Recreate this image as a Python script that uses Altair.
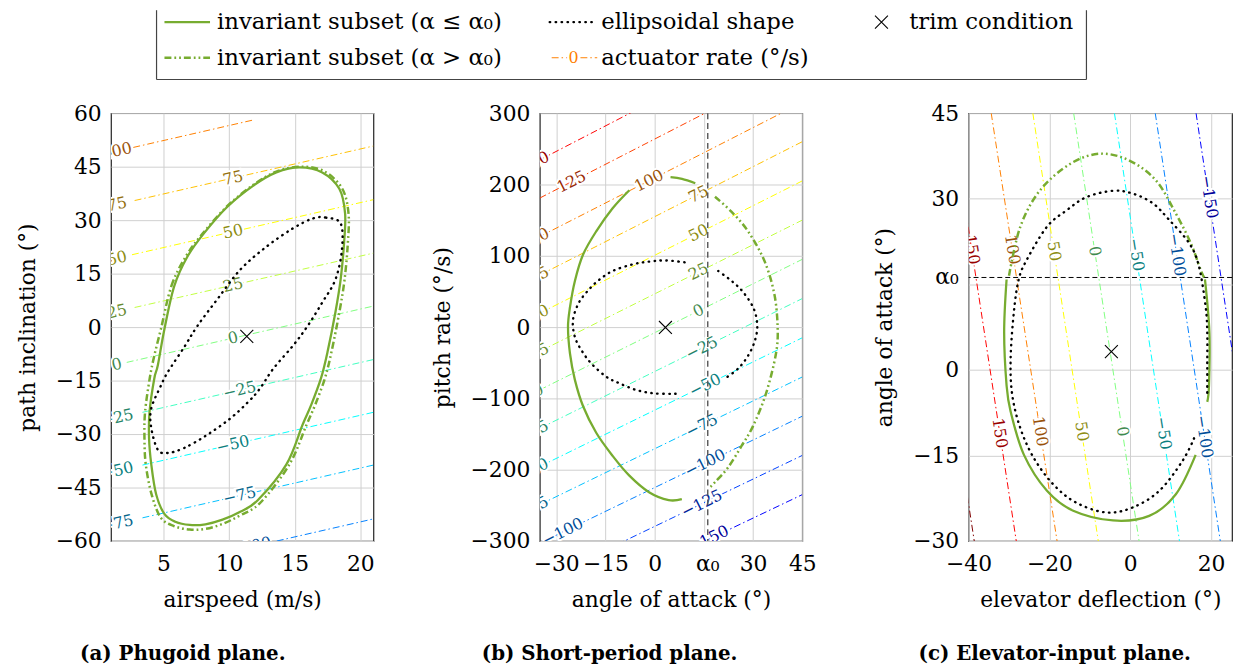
import altair as alt
import pandas as pd

FONT = "DejaVu Serif"
GREEN = "#77ac30"
ALPHA0 = 16.2

# ---------------- panel (a): phugoid plane ----------------
A_XTICKS = [5, 10, 15, 20]
A_YTICKS = [-60, -45, -30, -15, 0, 15, 30, 45, 60]
A_LEVELS = [100, 75, 50, 25, 0, -25, -50, -75, -100]
A_X0 = [2.7, 2.8, 2.6, 2.8, 2.2, 3.4, 3.4, 3.4, 11.5]
A_Y0 = [50.4, 35.5, 20.3, 5.5, -9.9, -23.9, -38.7, -53.5, -61.8]
A_X1 = [11.85, 21.0, 21.0, 21.0, 21.0, 21.0, 21.0, 21.0, 21.0]
A_Y1 = [58.1, 50.8, 35.75, 20.75, 5.9, -9.1, -23.9, -38.7, -53.8]
A_LAB_LEVEL = [100, 75, 50, 25, 0, -25, -50, -75, 75, 50, 25, 0, -25, -50, -75, -100]
A_LAB_X = [1.45, 1.45, 1.45, 1.45, 1.45, 1.45, 1.45, 1.45, 10.3, 10.3, 10.3, 10.3, 10.8, 10.3, 10.8, 11.6]
A_LAB_Y = [49.4, 34.4, 19.3, 4.3, -10.5, -25.5, -40.3, -55.1, 41.8, 26.75, 11.75, -3.1, -17.7, -32.9, -47.3, -61.7]
A_SOL_X = [5.07, 5.82, 6.83, 8.08, 9.85, 11.85, 13.6, 15.37, 17.1, 18.4, 18.84, 18.76, 18.5, 18.1, 17.5, 17.0,
           16.25, 15.6, 14.37, 12.2, 10.85, 9.5, 8.2, 7.0, 5.9, 5.07, 4.44, 4.07, 3.9, 3.94, 4.3, 4.57]
A_SOL_Y = [-0.6, 11.5, 19.8, 26.3, 33.7, 39.7, 43.4, 44.8, 43.4, 38.8, 31.9, 23.5, 13.3, 4.1, -7.0, -14.4,
           -21.9, -27.4, -38.5, -48.5, -51.8, -54.0, -55.3, -55.5, -54.6, -52.4, -46.9, -38.5, -31.1, -23.7, -14.4, -10.7]
A_DD_X = [4.8, 5.6, 6.7, 8.0, 9.85, 11.85, 13.6, 15.4, 17.2, 18.6, 19.1, 19.05, 18.8, 18.4, 17.8, 17.3,
          16.55, 15.9, 14.6, 12.4, 10.85, 9.5, 8.2, 7.0, 5.8, 4.8, 4.1, 3.65, 3.55, 3.6, 3.95, 4.3]
A_DD_Y = [-0.6, 11.5, 19.8, 26.3, 33.9, 39.9, 43.6, 45.0, 43.8, 39.0, 32.0, 23.5, 13.3, 4.1, -7.0, -14.4,
          -21.9, -27.4, -38.5, -49.2, -52.8, -55.2, -56.6, -56.8, -55.8, -53.5, -47.0, -38.5, -31.0, -23.7, -14.4, -8.0]
A_DOT_X = [16.4, 17.38, 18.5, 18.6, 18.1, 17.1, 16.0, 14.87, 13.36, 12.36, 11.48, 10.1, 8.34, 6.58, 5.33, 4.57,
           4.07, 4.07, 4.82, 5.33, 6.58, 7.6, 9.1, 10.85, 12.86, 14.87]
A_DOT_Y = [30.5, 30.7, 29.1, 21.7, 13.3, 6.9, 0.4, -5.2, -11.7, -17.2, -20.9, -25.6, -30.2, -33.9, -35.3, -34.4,
           -28.3, -22.8, -16.3, -12.6, -5.6, 0.4, 7.8, 16.1, 22.6, 27.7]
A_TRIM = [11.35, -2.6]

# ---------------- panel (b): short-period plane ----------------
B_XTICKS = [-30, -15, 0, 15, 30, 45]
B_YTICKS = [-300, -200, -100, 0, 100, 200, 300]
B_LEVELS = [150, 125, 100, 75, 50, 25, 0, -25, -50, -75, -100, -125, -150]
B_X0 = [-35, -35, -35, -35, -35, -35, -35, -35, -35, -35, -35, -35, -35]
B_Y0 = [234.5, 181, 127, 73, 19.5, -34, -88, -142, -195.5, -249, -303, -357, -410.5]
B_X1 = [45, 45, 45, 45, 45, 45, 45, 45, 45, 45, 45, 45, 45]
B_Y1 = [425, 370, 315, 260, 205, 150, 95, 40, -15, -70, -125, -180, -235]
B_LAB_LEVEL = [150, 125, 100, 75, 50, 25, 0, -25, -50, -75, -100,
               100, 75, 50, 25, 0, -25, -50, -75, -100, -125, -150]
B_LAB_X = [-36.5, -25.3, -36.5, -35.2, -35.2, -35.2, -35.5, -37.2, -37.2, -37.2, -28.0,
           -1.7, 13.4, 13.4, 13.4, 13.4, 14.4, 15.4, 14.4, 15.4, 14.4, 16.4]
B_LAB_Y = [230.9, 203.9, 123.5, 72.5, 19.0, -34.5, -89.1, -147.0, -200.5, -253.9, -287.4,
           205.3, 186.2, 132.0, 77.9, 22.7, -29.6, -81.8, -138.5, -190.9, -247.7, -298.0]
B_SOL1_X = [-7.7, -12.8, -17.8, -21.8, -24.3, -25.8, -26.4, -25.8, -24.3, -21.8, -17.8, -12.8, -7.7, -1.7, 4.3, 8.3]
B_SOL1_Y = [192.0, 166.7, 134.3, 101.8, 64.8, 27.8, 0.0, -37.0, -74.0, -111.0, -148.2, -180.6, -208.3, -231.5, -242.6, -241.2]
B_SOL2_X = [4.85, 8.35, 12.4]
B_SOL2_Y = [210.2, 207.9, 201.8]
B_DD_X = [18.4, 23.4, 28.5, 33.5, 36.5, 37.5, 37.0, 34.0, 30.0, 26.5, 22.4, 18.4, 16.4]
B_DD_Y = [182.9, 162.0, 134.3, 92.6, 46.3, 0.0, -37.0, -92.6, -138.9, -166.7, -196.8, -217.6, -226.8]
B_DOT1_X = [6.4, 0.0, -5.7, -10.8, -14.8, -19.3, -22.3, -24.3, -24.9, -23.3, -20.8, -17.3, -12.8, -6.7, -1.5, 3.5, 9.4]
B_DOT1_Y = [-93.5, -93.0, -88.0, -78.7, -69.4, -51.0, -32.4, -13.9, 9.3, 32.4, 48.6, 64.8, 78.7, 88.0, 92.0, 93.5, 90.7]
B_DOT2_X = [19.4, 23.4, 27.0, 30.2, 31.3, 30.5, 28.5, 25.5, 21.5]
B_DOT2_Y = [78.7, 65.0, 49.0, 26.0, 2.0, -20.0, -40.0, -58.0, -72.0]
B_TRIM = [3.3, -0.5]

# ---------------- panel (c): elevator-input plane ----------------
C_XTICKS = [-40, -20, 0, 20]
C_YTICKS = [-30, -15, 0, 15, 30, 45]
C_LEVELS = [200, 150, 100, 50, 0, -50, -100, -150]
C_X0 = [-54.8, -44.4, -34.4, -24.1, -14.0, -3.9, 6.2, 16.3]
C_Y0 = [45, 45, 45, 45, 45, 45, 45, 45]
C_X1 = [-38.6, -28.2, -18.1, -7.9, 2.2, 12.2, 22.3, 32.4]
C_Y1 = [-30, -30, -30, -30, -30, -30, -30, -30]
C_LAB_LEVEL = [150, 100, 50, 0, -50, -100, -150, 150, 100, 50, 0, -50, -100]
C_LAB_X = [-39.2, -29.2, -18.9, -8.8, 1.46, 11.56, 19.5, -32.3, -22.3, -12.0, -1.9, 8.2, 18.3]
C_LAB_Y = [21.1, 21.1, 20.8, 20.8, 20.2, 20.2, 30.3, -11.1, -10.8, -10.8, -10.8, -11.1, -11.7]
C_SOL1_X = [-30.6, -31.2, -30.6, -29.6, -26.3, -20.6, -14.1, -4.25, 4.7, 11.3, 16.2]
C_SOL1_Y = [15.85, 6.6, -2.7, -7.3, -14.9, -21.2, -24.7, -26.4, -25.6, -21.8, -14.9]
C_SOL2_X = [18.5, 19.6, 19.5, 19.07]
C_SOL2_Y = [15.85, 6.6, -2.7, -5.6]
C_DD_X = [-30.0, -27.2, -22.3, -14.9, -7.5, -0.2, 6.4, 11.3, 15.0, 17.4, 18.3]
C_DD_Y = [16.5, 25.1, 31.5, 36.1, 37.9, 36.7, 33.2, 27.4, 22.2, 17.6, 16.2]
C_DOT_X = [15.8, 12.9, 7.2, 0.66, -5.9, -13.3, -19.0, -23.9, -27.2, -29.2, -29.6, -28.8, -27.6, -25.6, -20.6,
           -15.7, -10.8, -4.25, 0.66, 5.6, 9.65, 14.6, 17.0, 18.65, 19.07, 19.07, 19.07]
C_DOT_Y = [-12.0, -16.0, -21.2, -24.1, -25.0, -23.3, -20.1, -15.4, -10.2, -4.4, 1.9, 10.1, 15.85, 19.3, 25.1,
           28.0, 30.3, 31.4, 30.9, 29.2, 26.3, 22.2, 18.2, 11.2, 6.6, 0.8, -4.4]
C_TRIM = [-4.66, 3.2]

LEGEND_LABELS = ["invariant subset (α ≤ α₀)", "invariant subset (α > α₀)", "ellipsoidal shape",
                 "actuator rate (°/s)", "trim condition"]
LEGEND_SAMPLE_LEVEL = "0"
ALPHA0_LABEL = "α₀"
CAPTIONS = ["(a) Phugoid plane.", "(b) Short-period plane.", "(c) Elevator-input plane."]

# ---------------- styling ----------------
JET_DOMAIN = [-200, -150, -100, -50, 0, 50, 100, 150, 200]
JET_LINE = ["#000080", "#0000ff", "#0080ff", "#00ffff", "#80ff80", "#ffff00", "#ff8000", "#ff0000", "#800000"]
JET_TEXT = ["#00004d", "#000099", "#004d99", "#0a7f80", "#3f8a4f", "#8c8c10", "#99520a", "#990000", "#4d0000"]
STROKE_SCALE = alt.Scale(domain=JET_DOMAIN, range=JET_LINE, interpolate="rgb")
FILL_SCALE = alt.Scale(domain=JET_DOMAIN, range=JET_TEXT, interpolate="rgb")
CONTOUR_DASH = [7, 3, 1.5, 3]
DD_DASH = [7, 3, 1.8, 3, 1.8, 3]
DOT_DASH = [0.5, 5.5]
XPATH = "M-1,-1L1,1M-1,1L1,-1"
W, H = 265, 432
LEG_FS = 23


def frame_df(xs, ys):
    return pd.DataFrame({"x": xs, "y": ys, "i": list(range(len(xs)))})


def panel(X, Y, levels, x0, y0, x1, y1, lab_level, lab_x, lab_y, angle, curves, trim, extra):
    rules_df = pd.DataFrame({"level": levels, "x": x0, "y": y0, "x2": x1, "y2": y1})
    lab_df = pd.DataFrame({"level": lab_level, "x": lab_x, "y": lab_y})
    layers = []
    layers.append(alt.Chart(rules_df).mark_rule(clip=True, strokeWidth=1, strokeDash=CONTOUR_DASH).encode(
        x=X, y=Y, x2="x2:Q", y2="y2:Q",
        stroke=alt.Stroke("level:Q", scale=STROKE_SCALE, legend=None)))
    layers.append(alt.Chart(lab_df).mark_text(clip=True, font=FONT, fontSize=16, angle=angle,
                                              stroke="white", strokeWidth=4, fill="white").encode(
        x=X, y=Y, text=alt.Text("level:Q", format="d")))
    layers.append(alt.Chart(lab_df).mark_text(clip=True, font=FONT, fontSize=16, angle=angle).encode(
        x=X, y=Y, text=alt.Text("level:Q", format="d"),
        fill=alt.Fill("level:Q", scale=FILL_SCALE, legend=None)))
    layers += extra
    for xs, ys, kind in curves:
        df = frame_df(xs, ys)
        if kind == "solid":
            mk = dict(stroke=GREEN, strokeWidth=2.3, interpolate="cardinal")
        elif kind == "solid-closed":
            mk = dict(stroke=GREEN, strokeWidth=2.3, interpolate="cardinal-closed")
        elif kind == "dd":
            mk = dict(stroke=GREEN, strokeWidth=2.5, strokeDash=DD_DASH, interpolate="cardinal")
        elif kind == "dd-closed":
            mk = dict(stroke=GREEN, strokeWidth=2.5, strokeDash=DD_DASH, interpolate="cardinal-closed")
        elif kind == "dot-closed":
            mk = dict(stroke="black", strokeWidth=2.4, strokeDash=DOT_DASH, strokeCap="round",
                      interpolate="cardinal-closed")
        else:
            mk = dict(stroke="black", strokeWidth=2.4, strokeDash=DOT_DASH, strokeCap="round",
                      interpolate="cardinal")
        layers.append(alt.Chart(df).mark_line(**mk).encode(x=X, y=Y, order="i:Q"))
    tdf = pd.DataFrame({"x": [trim[0]], "y": [trim[1]]})
    layers.append(alt.Chart(tdf).mark_point(shape=XPATH, size=170, filled=False, stroke="black",
                                            strokeWidth=1.1, opacity=1).encode(x=X, y=Y))
    return layers


ONE = pd.DataFrame({"k": [0]})


def lrule(xa, xb, ya, yb, **mk):
    return alt.Chart(ONE).mark_rule(**mk).encode(x=alt.value(xa), x2=alt.value(xb),
                                                 y=alt.value(ya), y2=alt.value(yb))


def ltext(x, y, s, **mk):
    opts = dict(align="left", baseline="middle", font=FONT, fontSize=LEG_FS, color="black")
    opts.update(mk)
    return alt.Chart(ONE).mark_text(**opts).encode(x=alt.value(x), y=alt.value(y), text=alt.value(s))


def caption(text, dx):
    return alt.TitleParams(text, orient="bottom", anchor="middle", frame="group", dx=dx, offset=34,
                           font=FONT, fontSize=20, fontWeight="bold", color="black")


# ---- panel (a)
A_X = alt.X("x:Q", scale=alt.Scale(domain=[1, 21], nice=False, zero=False),
            axis=alt.Axis(values=A_XTICKS, title="airspeed (m/s)"))
A_Y = alt.Y("y:Q", scale=alt.Scale(domain=[-60, 60], nice=False, zero=False),
            axis=alt.Axis(values=A_YTICKS, title="path inclination (°)"))

R1, R2 = -92, -56
legend_layers = [
    lrule(46, 46, -104, -34, stroke="#444", strokeWidth=1.2),
    lrule(985, 985, -104, -34, stroke="#444", strokeWidth=1.2),
    lrule(46, 985, -34, -34, stroke="#444", strokeWidth=1.2),
    lrule(54, 100, R1, R1, stroke=GREEN, strokeWidth=2.3),
    ltext(107, R1, LEGEND_LABELS[0]),
    lrule(54, 100, R2, R2, stroke=GREEN, strokeWidth=2.5, strokeDash=DD_DASH),
    ltext(107, R2, LEGEND_LABELS[1]),
    lrule(443, 489, R1, R1, stroke="black", strokeWidth=2.4, strokeDash=DOT_DASH, strokeCap="round"),
    ltext(495, R1, LEGEND_LABELS[2]),
    lrule(445, 491, R2, R2, stroke="#ff8000", strokeWidth=1, strokeDash=CONTOUR_DASH),
    ltext(467, R2, LEGEND_SAMPLE_LEVEL, align="center", fontSize=16, stroke="white", strokeWidth=5, color="white"),
    ltext(467, R2, LEGEND_SAMPLE_LEVEL, align="center", fontSize=16, color="#ff8000"),
    ltext(495, R2, LEGEND_LABELS[3]),
    alt.Chart(ONE).mark_point(shape=XPATH, size=170, filled=False, stroke="black", strokeWidth=1.1,
                              opacity=1).encode(x=alt.value(778), y=alt.value(R1)),
    ltext(806, R1, LEGEND_LABELS[4]),
]

pa_layers = panel(A_X, A_Y, A_LEVELS, A_X0, A_Y0, A_X1, A_Y1, A_LAB_LEVEL, A_LAB_X, A_LAB_Y, 347,
                  [(A_DD_X, A_DD_Y, "dd-closed"), (A_SOL_X, A_SOL_Y, "solid-closed"),
                   (A_DOT_X, A_DOT_Y, "dot-closed")], A_TRIM, [])
pa = alt.layer(*(pa_layers + legend_layers)).properties(width=W, height=H, title=caption(CAPTIONS[0], -60))

# ---- panel (b)
B_X = alt.X("x:Q", scale=alt.Scale(domain=[-35, 45], nice=False, zero=False),
            axis=alt.Axis(values=B_XTICKS, title="angle of attack (°)",
                          labelExpr="datum.value == 15 ? '' : datum.label"))
B_Y = alt.Y("y:Q", scale=alt.Scale(domain=[-300, 300], nice=False, zero=False),
            axis=alt.Axis(values=B_YTICKS, title="pitch rate (°/s)"))
a0b = pd.DataFrame({"x": [ALPHA0]})
b_extra = [
    alt.Chart(a0b).mark_rule(stroke="#555", strokeWidth=1.4, strokeDash=[6, 4]).encode(x=B_X),
    alt.Chart(a0b).mark_text(font=FONT, fontSize=22, baseline="top", color="black").encode(
        x=B_X, y=alt.value(H + 13), text=alt.value(ALPHA0_LABEL)),
]
pb_layers = panel(B_X, B_Y, B_LEVELS, B_X0, B_Y0, B_X1, B_Y1, B_LAB_LEVEL, B_LAB_X, B_LAB_Y, 333.5,
                  [(B_SOL1_X, B_SOL1_Y, "solid"), (B_SOL2_X, B_SOL2_Y, "solid"), (B_DD_X, B_DD_Y, "dd"),
                   (B_DOT1_X, B_DOT1_Y, "dot"), (B_DOT2_X, B_DOT2_Y, "dot")], B_TRIM, b_extra)
pb = alt.layer(*pb_layers).properties(width=W, height=H, title=caption(CAPTIONS[1], -62))

# ---- panel (c)
C_X = alt.X("x:Q", scale=alt.Scale(domain=[-40, 25.2], nice=False, zero=False),
            axis=alt.Axis(values=C_XTICKS, title="elevator deflection (°)"))
C_Y = alt.Y("y:Q", scale=alt.Scale(domain=[-30, 45], nice=False, zero=False),
            axis=alt.Axis(values=C_YTICKS, title="angle of attack (°)",
                          labelExpr="datum.value == 15 ? '' : datum.label"))
a0c = pd.DataFrame({"y": [ALPHA0]})
c_extra = [
    alt.Chart(a0c).mark_rule(stroke="black", strokeWidth=1, strokeDash=[5, 3]).encode(y=C_Y),
    alt.Chart(a0c).mark_text(font=FONT, fontSize=22, align="right", baseline="middle", color="black").encode(
        y=C_Y, x=alt.value(-10), text=alt.value(ALPHA0_LABEL)),
]
pc_layers = panel(C_X, C_Y, C_LEVELS, C_X0, C_Y0, C_X1, C_Y1, C_LAB_LEVEL, C_LAB_X, C_LAB_Y, 81,
                  [(C_DD_X, C_DD_Y, "dd"), (C_SOL1_X, C_SOL1_Y, "solid"), (C_SOL2_X, C_SOL2_Y, "solid"),
                   (C_DOT_X, C_DOT_Y, "dot")], C_TRIM, c_extra)
pc = alt.layer(*pc_layers).properties(width=266, height=H, title=caption(CAPTIONS[2], -46))

chart = alt.hconcat(pa, pb, pc, spacing=168, bounds="flush").configure(
    padding={"left": 7, "top": -3, "right": 0, "bottom": 0}
).configure_view(stroke="#222", strokeWidth=1.2).configure_axis(
    labelFont=FONT, labelFontSize=22, labelColor="black", titleFont=FONT, titleFontSize=22,
    titleFontWeight="normal", titleColor="black", gridColor="#cfcfcf", gridWidth=1, ticks=False,
    domain=False, labelFlush=False, labelOverlap=False
).configure_axisX(labelPadding=13, titlePadding=15).configure_axisY(labelPadding=10, titlePadding=16)

chart.save("out.html", embed_options={"renderer": "svg", "actions": False})
